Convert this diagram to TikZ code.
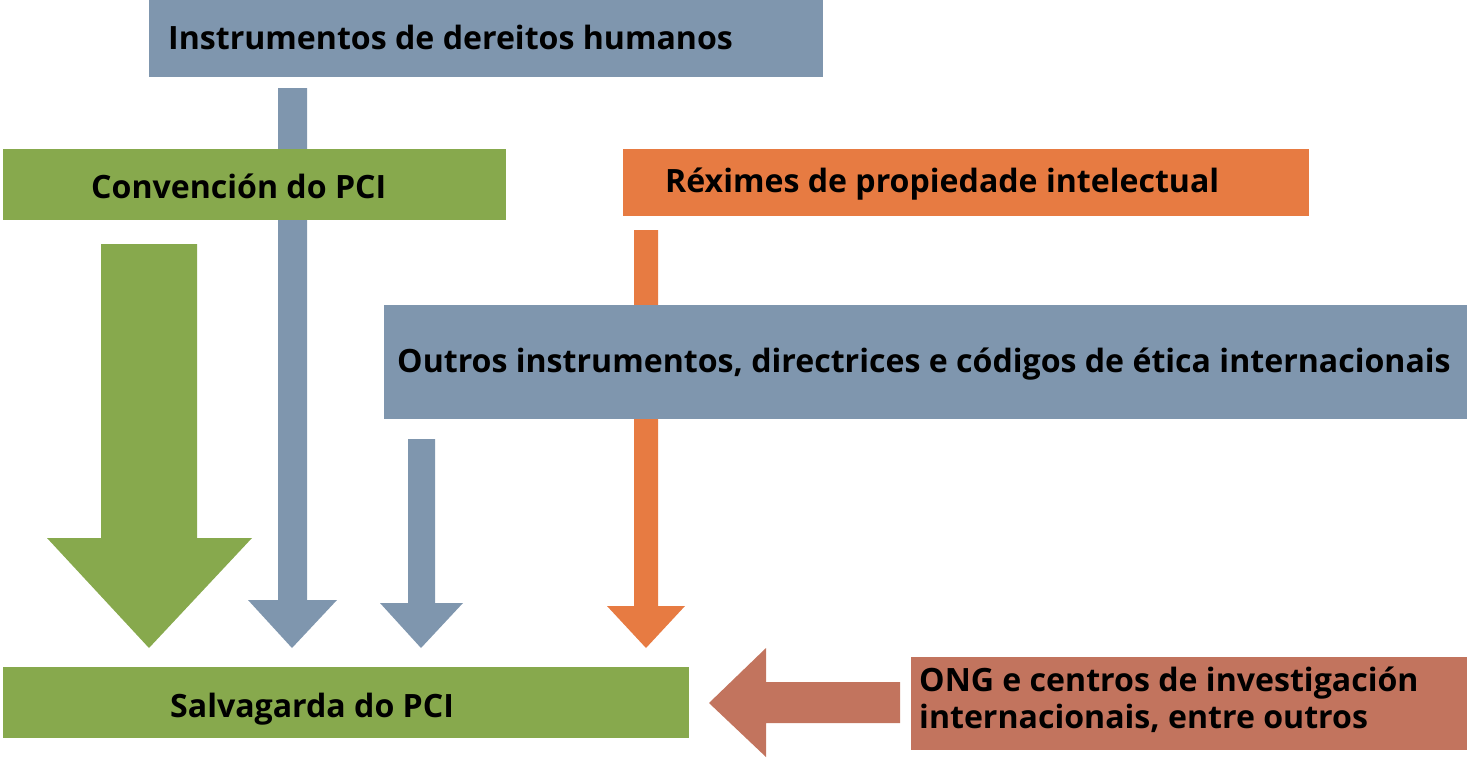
\documentclass[tikz,border=0pt]{standalone}
\usepackage{fontspec}
\setmainfont{Open Sans}
\definecolor{cblue}{HTML}{7F96AE}
\definecolor{cgreen}{HTML}{87A94D}
\definecolor{corange}{HTML}{E77B42}
\definecolor{cbrown}{HTML}{C2745E}
\begin{document}
\begin{tikzpicture}[x=1pt,y=-1pt,
  box/.style={draw=none,inner sep=0pt,anchor=north west},
  lbl/.style={inner sep=0pt,anchor=base west,font=\bfseries\fontsize{32.1}{37}\selectfont,align=left}]
\useasboundingbox (0,0) rectangle (1467,758);
% boxes
\node[box,fill=cblue,minimum width=674pt,minimum height=77pt] (hr) at (149,0) {};
\node[box,fill=cgreen,minimum width=503pt,minimum height=71pt] (conv) at (3,149) {};
\node[box,fill=corange,minimum width=686pt,minimum height=67pt] (pi) at (623,149) {};
\node[box,fill=cblue,minimum width=1083pt,minimum height=114pt] (other) at (384,305) {};
\node[box,fill=cgreen,minimum width=686pt,minimum height=71pt] (safe) at (3,667) {};
\node[box,fill=cbrown,minimum width=556pt,minimum height=93pt] (ngo) at (911,657) {};
% blue long arrow from hr (passes behind conv box)
\fill[cblue] (278,88) -- (307,88) -- (307,600) -- (337,600) -- (292,648) -- (248,600) -- (278,600) -- cycle;
% orange arrow (passes behind other box)
\fill[corange] (634,230) -- (658,230) -- (658,606) -- (685,606) -- (646,648) -- (607,606) -- (634,606) -- cycle;
% boxes that lie over arrows
\fill[cgreen] (conv.north west) rectangle (conv.south east);
\fill[cblue] (other.north west) rectangle (other.south east);
% green big arrow
\fill[cgreen] (101,244) -- (197,244) -- (197,538) -- (252,538) -- (149,648) -- (47,538) -- (101,538) -- cycle;
% small blue arrow
\fill[cblue] (408,439) -- (435,439) -- (435,603) -- (463,603) -- (421,648) -- (380,603) -- (408,603) -- cycle;
% brown left arrow
\fill[cbrown] (900,682) -- (766,682) -- (766,648) -- (709,703) -- (766,757) -- (766,723) -- (900,723) -- cycle;
% labels
\node[lbl] (thr) at (168,49) {Instrumentos de dereitos humanos};
\node[lbl] (tconv) at (91,198) {Convención do PCI};
\node[lbl] (tpi) at (665,192) {Réximes de propiedade intelectual};
\node[lbl] (tother) at (397,372) {Outros instrumentos, directrices e códigos de ética internacionais};
\node[lbl] (tsafe) at (170,717) {Salvagarda do PCI};
\node[lbl] (tngo) at (919,728) {ONG e centros de investigación\\internacionais, entre outros};
\end{tikzpicture}
\end{document}
